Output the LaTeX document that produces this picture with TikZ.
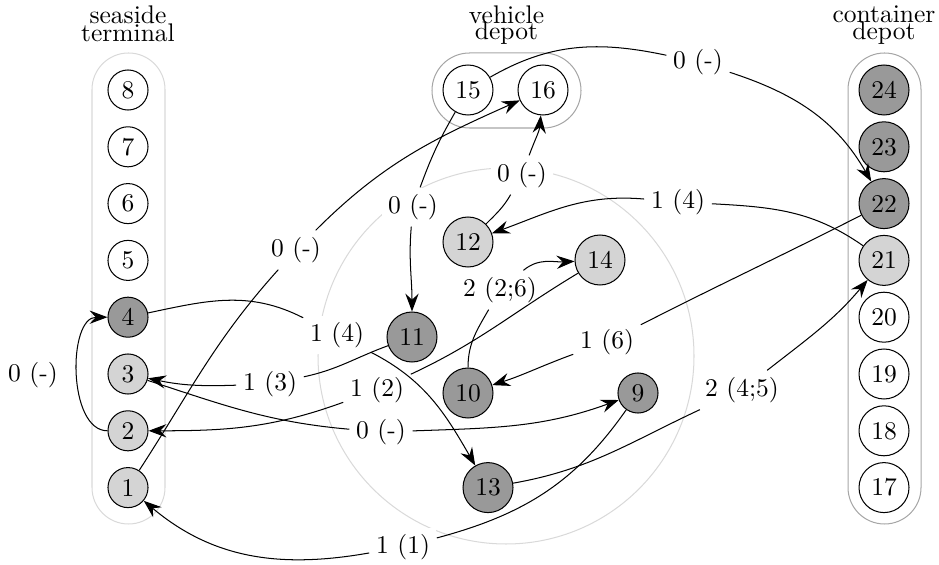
\documentclass[tikz,border=0pt]{standalone}
\usetikzlibrary{arrows.meta}
\begin{document}
\begin{tikzpicture}[x=0.392pt,y=0.392pt,
  sn/.style={circle, draw, minimum size=15.7pt, inner sep=0pt},
  bn/.style={circle, draw, minimum size=19.6pt, inner sep=0pt},
  dk/.style={fill=black!40},
  lt/.style={fill=black!17},
  lab/.style={fill=white, inner sep=2.5pt},
  hdr/.style={anchor=base, inner sep=0pt},
  arr/.style={-{Stealth[length=7pt,width=5.2pt,inset=2.4pt]}},
  lightgrp/.style={draw=black!15},
  darkgrp/.style={draw=black!35}]
\useasboundingbox (0,0) rectangle (939,565);
% groups
\draw[lightgrp, rounded corners=14.3pt] (92,41) rectangle (165,512);
\draw[darkgrp, rounded corners=14.3pt] (848,41) rectangle (921,512);
\draw[darkgrp, rounded corners=14.7pt] (432,437) rectangle (581,512);
\draw[lightgrp] (506,209) circle[radius=188];
% headers
\node[hdr] (hs1) at (128,541.7) {seaside};
\node[hdr] (hs2) at (128,523.5) {terminal};
\node[hdr] (hv1) at (506.5,541) {vehicle};
\node[hdr] (hv2) at (506.5,525) {depot};
\node[hdr] (hc1) at (884,542) {container};
\node[hdr] (hc2) at (884,525) {depot};
% seaside terminal
\node[sn]     (n8) at (128,475)   {8};
\node[sn]     (n7) at (128,418.2) {7};
\node[sn]     (n6) at (128,361.4) {6};
\node[sn]     (n5) at (128,304.6) {5};
\node[sn,dk]  (n4) at (128,247.8) {4};
\node[sn,lt]  (n3) at (128,191)   {3};
\node[sn,lt]  (n2) at (128,134.2) {2};
\node[sn,lt]  (n1) at (128,77.4)  {1};
% container depot
\node[bn,dk] (n24) at (884,475)   {24};
\node[bn,dk] (n23) at (884,418.2) {23};
\node[bn,dk] (n22) at (884,361.4) {22};
\node[bn,lt] (n21) at (884,304.6) {21};
\node[bn]    (n20) at (884,247.8) {20};
\node[bn]    (n19) at (884,191)   {19};
\node[bn]    (n18) at (884,134.2) {18};
\node[bn]    (n17) at (884,77.4)  {17};
% vehicle depot
\node[bn] (n15) at (468,475) {15};
\node[bn] (n16) at (543,475) {16};
% inner nodes
\node[bn,lt] (n12) at (468,323) {12};
\node[bn,lt] (n14) at (600,305) {14};
\node[bn,dk] (n11) at (412,228) {11};
\node[bn,dk] (n10) at (468,172) {10};
\node[sn,dk] (n9)  at (638,172) {9};
\node[bn,dk] (n13) at (488,77.4) {13};
% labels
\node[lab] (la) at (296,315) {0 (-)};
\node[lab] (lb) at (33,190)  {0 (-)};
\node[lab] (lc) at (337,230) {1 (4)};
\node[lab] (ld) at (270,181) {1 (3)};
\node[lab] (le) at (377,175) {1 (2)};
\node[lab] (lf) at (381,133) {0 (-)};
\node[lab] (lg) at (403,18)  {1 (1)};
\node[lab] (lh) at (742,175) {2 (4;5)};
\node[lab] (li) at (607,223) {1 (6)};
\node[lab] (lj) at (678,363) {1 (4)};
\node[lab] (lk) at (698,503) {0 (-)};
\node[lab] (ll) at (413,358) {0 (-)};
\node[lab] (lm) at (522,390) {0 (-)};
\node[lab] (ln) at (500,275) {2 (2;6)};
% connectors
\draw (n1) to[out=57,in=228] (la);
\draw[arr] (la) to[out=45,in=204] (n16);
\draw[arr] (n2) to[out=180,in=180,looseness=0.9] (n4);
\draw (n4) to[out=12,in=153] (lc);
\draw[arr] (lc) to[out=-27,in=120] (n13);
\draw (n11) to[out=200,in=12] (ld);
\draw[arr] (ld) to[out=182,in=-12] (n3);
\draw (n14) to[out=211,in=25] (le);
\draw[arr] (le) to[out=200,in=0] (n2);
\draw (n3) to[out=-18,in=175] (lf);
\draw[arr] (lf) to[out=2,in=200] (n9);
\draw (n9) to[out=235,in=15] (lg);
\draw[arr] (lg) to[out=190,in=-40] (n1);
\draw (n13) to[out=10,in=205] (lh);
\draw[arr] (lh) to[out=38,in=230] (n21);
\draw (n22) to[out=207,in=27] (li);
\draw[arr] (li) to[out=200,in=18] (n10);
\draw (n21) to[out=145,in=-3] (lj);
\draw[arr] (lj) to[out=175,in=20] (n12);
\draw (n15) to[out=30,in=168] (lk);
\draw[arr] (lk) to[out=-18,in=120] (n22);
\draw (n15) to[out=240,in=70] (ll);
\draw[arr] (ll) to[out=265,in=90] (n11);
\draw (n12) to[out=45,in=240] (lm);
\draw[arr] (lm) to[out=70,in=265] (n16);
\draw (n10) to[out=90,in=240] (ln);
\draw[arr] (ln) to[out=40,in=183] (n14);
\end{tikzpicture}
\end{document}
